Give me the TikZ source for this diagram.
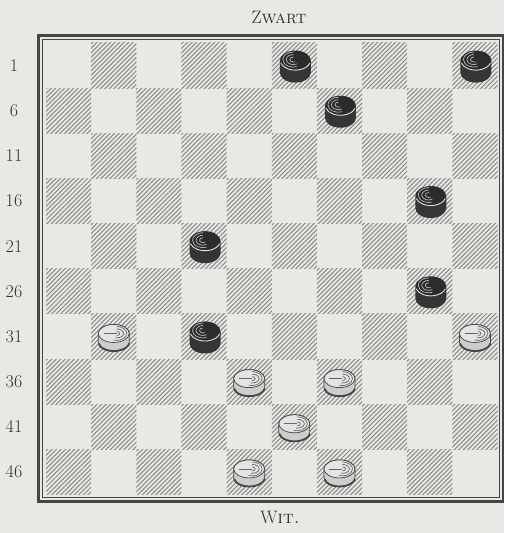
\documentclass[tikz,border=0pt]{standalone}
\usetikzlibrary{patterns.meta}
\definecolor{bg}{HTML}{E8E8E5}
\definecolor{hatch}{HTML}{8A8A8A}
\definecolor{framec}{HTML}{454545}
\definecolor{blk}{HTML}{353535}
\definecolor{blktop}{HTML}{2C2C2C}
\definecolor{wht}{HTML}{E4E4E2}
\definecolor{whtside}{HTML}{CDCDCB}
\definecolor{txt}{HTML}{303030}
\tikzset{
  darksq/.style={pattern={Lines[angle=45,distance=3.2pt,line width=1.05pt]},pattern color=hatch},
  lbl/.style={text=txt,font=\fontsize{18}{20}\selectfont,inner sep=0pt},
  blackpiece/.pic={
    \fill[blk] (-15.5,5) -- (-15.5,-7) arc[start angle=180,end angle=360,x radius=15.5,y radius=10]
      -- (15.5,5) arc[start angle=0,end angle=180,x radius=15.5,y radius=10] -- cycle;
    \fill[blktop] (0,5) ellipse[x radius=15,y radius=9.5];
    \draw[white!75!gray,line width=0.9] (-14.5,2.5) arc[start angle=195,end angle=345,x radius=15,y radius=9.5];
    \draw[gray!55,line width=0.7] (-2,6) ++(0,2.5) arc[start angle=90,end angle=300,x radius=3.5,y radius=2.5];
    \draw[gray!55,line width=0.7] (-2,6) ++(0,5) arc[start angle=90,end angle=300,x radius=7,y radius=5];
    \draw[gray!55,line width=0.7] (-2,6) ++(0,7.5) arc[start angle=90,end angle=290,x radius=10.5,y radius=7.5];
  },
  whitepiece/.pic={
    \fill[whtside,draw=framec,line width=0.8] (-15.5,4) -- (-15.5,-5) arc[start angle=180,end angle=360,x radius=15.5,y radius=9]
      -- (15.5,4) arc[start angle=0,end angle=180,x radius=15.5,y radius=9] -- cycle;
    \draw[framec,line width=1.6] (-15,-6) arc[start angle=190,end angle=350,x radius=15.5,y radius=9];
    \fill[wht,draw=framec,line width=0.7] (0,4) ellipse[x radius=15.5,y radius=9];
    \draw[gray!80!black,line width=0.7] (3,4) ++(0,2) arc[start angle=90,end angle=-90,x radius=3,y radius=2];
    \draw[gray!80!black,line width=0.7] (3,4) ++(0,4.5) arc[start angle=90,end angle=-100,x radius=7,y radius=4.5];
    \draw[gray!80!black,line width=0.7] (3,4) ++(0,7) arc[start angle=90,end angle=-110,x radius=10,y radius=7];
    \draw[gray!80!black,line width=0.7] (-10,4) -- (3,4);
  }
}
\begin{document}
\begin{tikzpicture}[x=1pt,y=1pt]
\fill[bg] (0,0) rectangle (504,533);
\useasboundingbox (0,0) rectangle (504,533);
\def\s{45.15}
% dark squares
\foreach \r in {1,...,10}{
  \foreach \c in {1,...,10}{
    \pgfmathtruncatemacro\odd{mod(\r+\c,2)}
    \ifnum\odd=1
      \path[darksq] ({46+(\c-1)*\s},{490-(\r-1)*\s}) rectangle ++(\s,-\s);
    \fi
  }
}
% frames
\draw[framec,line width=0.8] (42.5,35.5) rectangle (499.5,493.5);
\draw[framec,line width=2.8] (38.5,31.5) rectangle (503,497.5);
% labels
\node[lbl] (zwart) at (279,516) {Z\textsc{wart}};
\node[lbl] (wit) at (280,16) {W\textsc{it.}};
\foreach \r/\n in {1/1,2/6,3/11,4/16,5/21,6/26,7/31,8/36,9/41,10/46}{
  \node[lbl] (row\n) at (14,{490-(\r-0.5)*\s}) {\n};
}
% black pieces
\foreach \r/\c in {1/6,1/10,2/7,4/9,5/4,6/9,7/4}{
  \pic at ({46+(\c-0.5)*\s+1},{490-(\r-0.5)*\s}) {blackpiece};
}
% white pieces
\foreach \r/\c in {7/2,7/10,8/5,8/7,9/6,10/5,10/7}{
  \pic at ({46+(\c-0.5)*\s},{490-(\r-0.5)*\s-1}) {whitepiece};
}
\end{tikzpicture}
\end{document}
